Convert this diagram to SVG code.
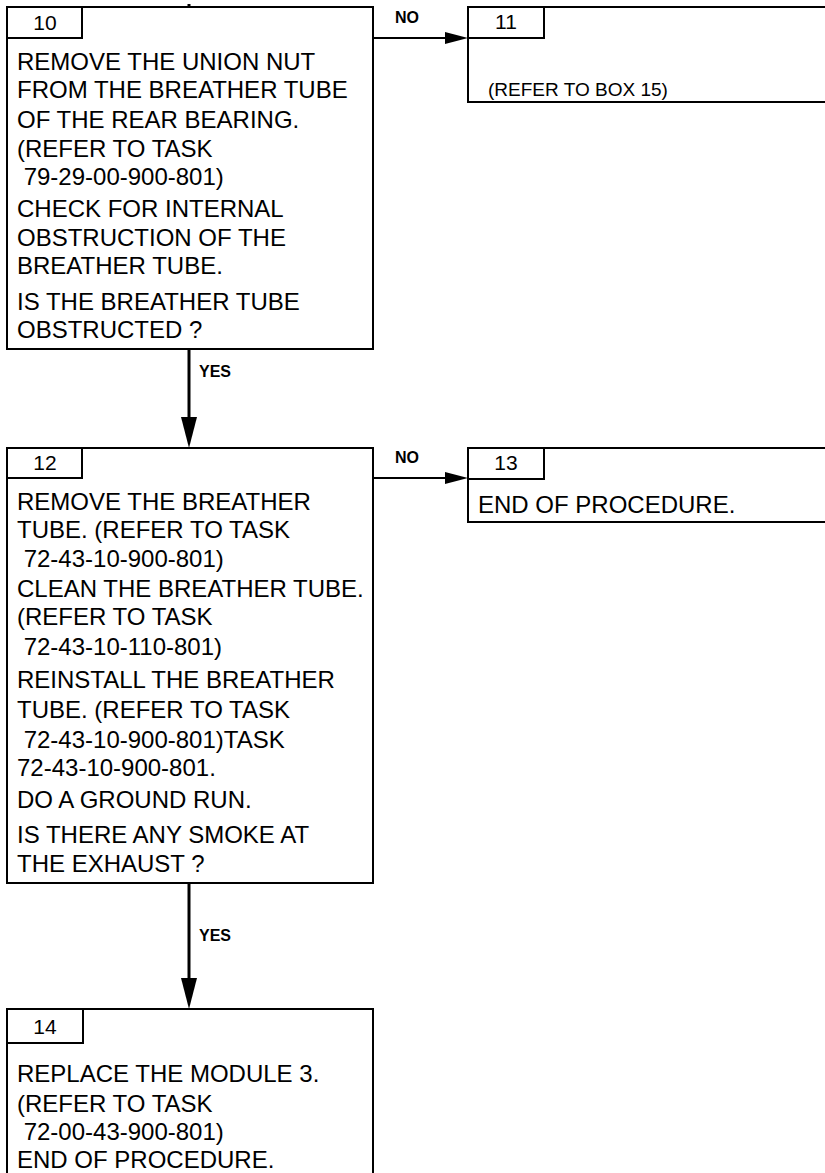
<svg xmlns="http://www.w3.org/2000/svg" width="825" height="1173" viewBox="0 0 825 1173">
<style>
.box{fill:#fff;stroke:#000;stroke-width:2}
.tab{fill:none;stroke:#000;stroke-width:2}
.t{font-family:"Liberation Sans",Arial,sans-serif;font-size:24px;fill:#000}
.n{font-family:"Liberation Sans",Arial,sans-serif;font-size:21px;fill:#000;text-anchor:middle}
.s{font-family:"Liberation Sans",Arial,sans-serif;font-size:19px;fill:#000}
.lbl{font-family:"Liberation Sans",Arial,sans-serif;font-size:16px;font-weight:bold;fill:#000}
.c{stroke:#000;fill:none}
</style>
<defs>
<marker id="av" markerUnits="userSpaceOnUse" markerWidth="40" markerHeight="20" refX="0" refY="8" orient="auto" overflow="visible">
<path d="M0,0 L31,8 L0,16 z" fill="#000"/>
</marker>
<marker id="ah" markerUnits="userSpaceOnUse" markerWidth="30" markerHeight="14" refX="0" refY="6" orient="auto" overflow="visible">
<path d="M0,0 L23,6 L0,12 z" fill="#000"/>
</marker>
</defs>
<g id="connectors">
<line class="c" x1="189" y1="4" x2="189" y2="7" stroke-width="3"/>
<line class="c" x1="373" y1="38" x2="445" y2="38" stroke-width="2" marker-end="url(#ah)"/>
<text class="lbl" x="395" y="23">NO</text>
<line class="c" x1="189" y1="349" x2="189" y2="417" stroke-width="3" marker-end="url(#av)"/>
<text class="lbl" x="199" y="377">YES</text>
<line class="c" x1="373" y1="478" x2="445" y2="478" stroke-width="2" marker-end="url(#ah)"/>
<text class="lbl" x="395" y="463">NO</text>
<line class="c" x1="189" y1="883" x2="189" y2="978" stroke-width="3" marker-end="url(#av)"/>
<text class="lbl" x="199" y="941">YES</text>
</g>
<g id="box10">
<rect class="box" x="7" y="7" width="366" height="342"/>
<rect class="tab" x="7" y="7" width="75" height="31"/>
<text class="n" x="45" y="30">10</text>
<text class="t" x="17" y="70">REMOVE THE UNION NUT</text>
<text class="t" x="17" y="98">FROM THE BREATHER TUBE</text>
<text class="t" x="17" y="128">OF THE REAR BEARING.</text>
<text class="t" x="17" y="157">(REFER TO TASK</text>
<text class="t" x="17" y="185" xml:space="preserve"> 79-29-00-900-801)</text>
<text class="t" x="17" y="217">CHECK FOR INTERNAL</text>
<text class="t" x="17" y="246">OBSTRUCTION OF THE</text>
<text class="t" x="17" y="274">BREATHER TUBE.</text>
<text class="t" x="17" y="310">IS THE BREATHER TUBE</text>
<text class="t" x="17" y="338">OBSTRUCTED ?</text>
</g>
<g id="box11">
<rect class="box" x="468" y="7" width="370" height="95"/>
<rect class="tab" x="468" y="7" width="76" height="31"/>
<text class="n" x="506" y="29">11</text>
<text class="s" x="488" y="96">(REFER TO BOX 15)</text>
</g>
<g id="box12">
<rect class="box" x="7" y="448" width="366" height="435"/>
<rect class="tab" x="7" y="448" width="75" height="30"/>
<text class="n" x="45" y="470">12</text>
<text class="t" x="17" y="510">REMOVE THE BREATHER</text>
<text class="t" x="17" y="538">TUBE. (REFER TO TASK</text>
<text class="t" x="17" y="567" xml:space="preserve"> 72-43-10-900-801)</text>
<text class="t" x="17" y="597">CLEAN THE BREATHER TUBE.</text>
<text class="t" x="17" y="625">(REFER TO TASK</text>
<text class="t" x="17" y="655" xml:space="preserve"> 72-43-10-110-801)</text>
<text class="t" x="17" y="688">REINSTALL THE BREATHER</text>
<text class="t" x="17" y="718">TUBE. (REFER TO TASK</text>
<text class="t" x="17" y="748" xml:space="preserve"> 72-43-10-900-801)TASK</text>
<text class="t" x="17" y="776">72-43-10-900-801.</text>
<text class="t" x="17" y="808">DO A GROUND RUN.</text>
<text class="t" x="17" y="843">IS THERE ANY SMOKE AT</text>
<text class="t" x="17" y="872">THE EXHAUST ?</text>
</g>
<g id="box13">
<rect class="box" x="468" y="448" width="370" height="74"/>
<rect class="tab" x="468" y="448" width="76" height="31"/>
<text class="n" x="506" y="470">13</text>
<text class="t" x="478" y="513">END OF PROCEDURE.</text>
</g>
<g id="box14">
<rect class="box" x="7" y="1009" width="366" height="180"/>
<rect class="tab" x="7" y="1009" width="76" height="34"/>
<text class="n" x="45" y="1034">14</text>
<text class="t" x="17" y="1082">REPLACE THE MODULE 3.</text>
<text class="t" x="17" y="1112">(REFER TO TASK</text>
<text class="t" x="17" y="1140" xml:space="preserve"> 72-00-43-900-801)</text>
<text class="t" x="17" y="1168">END OF PROCEDURE.</text>
</g>
</svg>
